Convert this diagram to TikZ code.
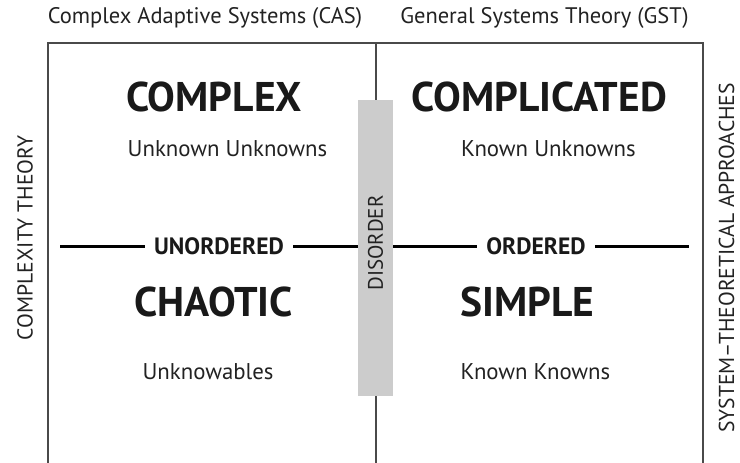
\documentclass[tikz,border=0pt]{standalone}
\usepackage{fontspec}
\setmainfont{PT Sans}
\usepackage{tikz}
\usetikzlibrary{calc}

\definecolor{framegray}{HTML}{4A4A4A}
\definecolor{bargray}{HTML}{CCCCCC}
\definecolor{inkgray}{HTML}{222222}

\tikzset{
  toptext/.style={text=inkgray, inner sep=0pt, font=\fontsize{22.5}{26}\selectfont},
  domainlabel/.style={text=black!90, inner sep=0pt, font=\fontsize{41.5}{48}\bfseries\selectfont},
  knowns/.style={text=inkgray, inner sep=0pt, font=\fontsize{22.8}{26}\selectfont},
  orderlabel/.style={text=black!90, inner xsep=9pt, inner ysep=0pt, font=\fontsize{23.6}{27}\bfseries\selectfont},
  sidetext/.style={text=inkgray, inner sep=0pt, rotate=90, font=\fontsize{21.6}{25}\selectfont},
}

\begin{document}
\begin{tikzpicture}[x=1pt, y=-1pt]
			%%%%% START %%%%%
			\useasboundingbox (0, 0) rectangle (740, 463);
			
			\node[toptext] (cas) at (205, 18) {Complex Adaptive Systems (CAS)};
			\node[toptext] (gst) at (544.5, 18) {General Systems Theory (GST)};
			
			\draw[line width=1.3pt, color=framegray] (48, 463) -- (48, 43) -- (703, 43) -- (703, 463);
			\draw[line width=1.3pt, color=framegray] (376, 43) -- (376, 463);
			
			\draw[fill=bargray, draw=none] (358, 100) rectangle (393, 396);
			\node[sidetext, font=\fontsize{21}{24}\selectfont] (disorder) at (375.5, 243) {DISORDER};
			
			\node[sidetext] (cplxtheory) at (25, 238) {COMPLEXITY THEORY};
			\node[sidetext] (systheory) at (726.5, 258) {SYSTEM–THEORETICAL APPROACHES};
			
			\node[domainlabel] (complex) at (214, 97) {COMPLEX};
			\node[domainlabel] (complicated) at (539.5, 97) {COMPLICATED};
			\node[domainlabel] (chaotic) at (213.5, 302) {CHAOTIC};
			\node[domainlabel] (simple) at (527.5, 302) {SIMPLE};
			
			\node[knowns] (unkunk) at (227.5, 149) {Unknown Unknowns};
			\node[knowns] (knunk) at (548.5, 149) {Known Unknowns};
			\node[knowns] (unknowables) at (208, 372) {Unknowables};
			\node[knowns] (knkn) at (535.5, 372) {Known Knowns};
			
			\node[orderlabel] (unordered) at (219, 246) {UNORDERED};
			\node[orderlabel] (ordered) at (536, 246) {ORDERED};
			
			\coordinate (leftend) at (60, 246);
			\coordinate (barleft) at (358, 246);
			\coordinate (barright) at (393, 246);
			\coordinate (rightend) at (689, 246);
			
			\draw[line width=3pt] (leftend) -- (unordered.west);
			\draw[line width=3pt] (unordered.east) -- (barleft);
			\draw[line width=3pt] (barright) -- (ordered.west);
			\draw[line width=3pt] (ordered.east) -- (rightend);
			
			%%%%% END %%%%%
\end{tikzpicture}
\end{document}
